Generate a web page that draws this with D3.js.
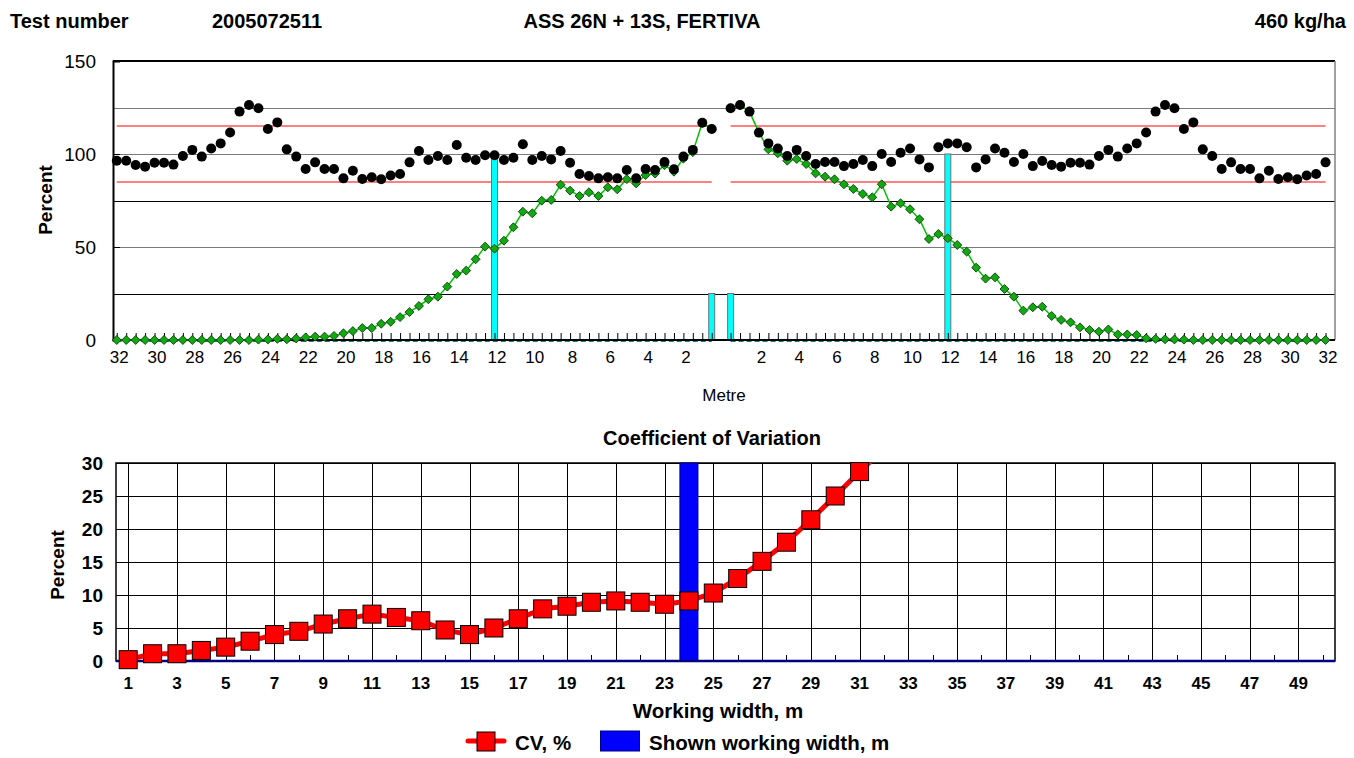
<!DOCTYPE html>
<html><head><meta charset="utf-8">
<script src="https://cdn.jsdelivr.net/npm/d3@7"></script>
<style>
body{margin:0;background:#fff}
svg{display:block}
text{font-family:"Liberation Sans",Arial,sans-serif;fill:#000}
</style>
</head><body>
<svg id="chart" width="1354" height="758"></svg>
<script>
// ---------------- DATA ----------------
const headerTexts = ["Test number", "2005072511", "ASS 26N + 13S, FERTIVA", "460 kg/ha"];

// distance from centre (m), left half and right half, every 0.5 m
const leftMetres  = d3.range(32, 0, -0.5);   // 32 ... 0.5
const rightMetres = d3.range(0.5, 32.5, 0.5); // 0.5 ... 32

// overlapped distribution (black dots), percent
const leftOverlap = [96.4, 96.4, 94.1, 93.2, 95.3, 95.3, 94.3, 98.9, 102.2, 98.6,
  103, 105.7, 111.6, 122.8, 126.3, 124.6, 113.4, 117, 102.5, 98.6,
  91.9, 95.5, 91.9, 91.9, 86.9, 91, 86.6, 87.5, 86.4, 88.4,
  89.2, 95.5, 101.6, 96.8, 98.9, 96.8, 104.8, 98, 96.8, 99.3,
  99.3, 96.8, 98, 105.2, 96.8, 98.9, 97.1, 101.6, 95.3, 89.2,
  88.2, 86.9, 87.5, 86.9, 91.4, 86.9, 91.9, 91.4, 95.7, 91.8,
  98.6, 102.2, 116.8, 113.4];
const rightOverlap = [124.6, 126.3, 122.8, 111.5, 105.7, 103, 98.9, 102.2, 98.9, 94.6,
  95.7, 95.7, 93.5, 94.6, 96.8, 93.5, 100, 95.7, 100.7, 103,
  97.1, 92.8, 103.6, 105.7, 105.7, 103.6, 92.8, 97.1, 103, 100.7,
  95.7, 100, 93.5, 96.2, 94.1, 93.2, 95.3, 95.3, 94.3, 98.9,
  102.2, 98.6, 103, 105.7, 111.6, 122.8, 126.3, 124.6, 113.4, 117,
  102.5, 98.9, 91.9, 95.5, 91.9, 91.9, 86.9, 91, 86.6, 87.5,
  86.4, 88.4, 89.2, 95.5];

// single pass distribution (green diamonds), percent
const leftSingle = [0, 0, 0, 0, 0, 0, 0, 0, 0, 0,
  0, 0, 0, 0, 0, 0.2, 0.3, 0.6, 0.4, 0.8,
  1.4, 1.8, 1.8, 2.2, 3.6, 4.8, 6.4, 6.4, 8.7, 9.8,
  12.3, 15, 18.3, 21.9, 23.3, 28.7, 35.5, 37.3, 43.4, 50.2,
  49.1, 53.4, 60.6, 69, 68.1, 74.9, 75.3, 83.5, 80.3, 77.4,
  79.4, 77.4, 82.1, 81, 86.5, 84.2, 88.7, 89.5, 94, 90.5,
  97.5, 101, 116.8, 113.4];
const rightSingle = [124.6, 126.3, 122.8, 111.5, 102.5, 100.4, 96.4, 97.3, 94.6, 89.6,
  87.8, 86.4, 83.7, 81.2, 78.5, 76.7, 83.7, 71.7, 73.5, 70.3,
  64.9, 54.3, 57, 54.7, 51.1, 47.5, 38.9, 33, 33.7, 27.4,
  23.3, 15.8, 17.6, 17.9, 12.9, 10.8, 9.5, 6.8, 5.4, 4.5,
  5.7, 3.0, 3.0, 2.7, 0.9, 0.6, 0.4, 0.3, 0.2, 0,
  0, 0, 0, 0, 0, 0, 0, 0, 0, 0,
  0, 0, 0, 0];

// tolerance lines (percent) and working-width markers
const limitValues = [85, 115];
const markerPositions = [-12, -0.5, 0.5, 12];  // signed metres (left negative)
const markerValues = [100, 25, 25, 100];

const topYTicks = [0, 50, 100, 150];
const topGridValues = [25, 50, 75, 100, 125];
const topXLabels = [32, 30, 28, 26, 24, 22, 20, 18, 16, 14, 12, 10, 8, 6, 4, 2];

// coefficient of variation
const workingWidths = d3.range(1, 51);          // 1 ... 50 (categories)
const cvWidths = d3.range(1, 33);               // 1 ... 32
const cvValues = [0.2, 1.1, 1.1, 1.6, 2.1, 3.0, 4.0, 4.5, 5.6, 6.4,
  7.1, 6.6, 6.1, 4.7, 4.0, 5.0, 6.4, 7.9, 8.3, 8.9,
  9.1, 8.9, 8.6, 9.1, 10.3, 12.5, 15.1, 18.0, 21.4, 25.0,
  28.7, 32.2];
const shownWidth = 24;
const shownWidthValue = 30;
const cvYTicks = [0, 5, 10, 15, 20, 25, 30];
const cvXLabels = [1, 3, 5, 7, 9, 11, 13, 15, 17, 19, 21, 23, 25, 27, 29, 31, 33, 35, 37, 39, 41, 43, 45, 47, 49];
const cvXMinor = [2, 4, 6, 8, 10, 12, 14, 16, 18, 20, 22, 24, 26, 28, 30, 32, 34, 36, 38, 40, 42, 44, 46, 48, 50];
const legendLabels = ["CV, %", "Shown working width, m"];

// ---------------- DRAW ----------------
const svg = d3.select("#chart");
const crisp = v => Math.round(v) + 0.5;

// header
const headerPos = [{x: 10, a: "start"}, {x: 212, a: "start"}, {x: 642, a: "middle"}, {x: 1346, a: "end"}];
svg.append("g").selectAll("text").data(headerTexts).join("text")
  .attr("x", (d, i) => headerPos[i].x).attr("y", 28)
  .attr("text-anchor", (d, i) => headerPos[i].a)
  .attr("font-size", 20).attr("font-weight", "bold").text(d => d);

// ===== TOP CHART =====
const T = {l: 113, r: 1335, t: 61, b: 340};
const xTop = d3.scaleLinear().domain([-32.2, 32.5]).range([T.l, T.r]);
const yTop = d3.scaleLinear().domain([0, 150]).range([T.b, T.t]);
const gTop = svg.append("g");

gTop.selectAll("line.grid").data(topGridValues).join("line")
  .attr("x1", T.l).attr("x2", T.r)
  .attr("y1", d => crisp(yTop(d))).attr("y2", d => crisp(yTop(d)))
  .attr("stroke", d => (d % 50 === 0 || d === 125) ? "#7a7a7a" : "#000").attr("stroke-width", 1);

// tolerance lines, both halves
const halves = [[-32, -0.5], [0.5, 32]];
limitValues.forEach(v => {
  gTop.selectAll(null).data(halves).join("line")
    .attr("x1", d => xTop(d[0])).attr("x2", d => xTop(d[1]))
    .attr("y1", yTop(v)).attr("y2", yTop(v))
    .attr("stroke", "#ff8080").attr("stroke-width", 2);
});

// plot border
gTop.append("line").attr("x1", T.l).attr("x2", T.r).attr("y1", T.t).attr("y2", T.t).attr("stroke", "#000").attr("stroke-width", 2);
gTop.append("line").attr("x1", T.r).attr("x2", T.r).attr("y1", T.t).attr("y2", T.b).attr("stroke", "#808080").attr("stroke-width", 1.5);

// marker bars (cyan)
const barW = 6;
gTop.selectAll("rect.mark").data(markerPositions).join("rect")
  .attr("x", d => xTop(d) - barW / 2).attr("width", barW)
  .attr("y", (d, i) => yTop(markerValues[i])).attr("height", (d, i) => yTop(0) - yTop(markerValues[i]))
  .attr("fill", "#00ffff").attr("stroke", "#707070").attr("stroke-width", 1);

// minor ticks every 0.5 m
const allPos = leftMetres.map(m => -m).concat(rightMetres);
gTop.append("g").attr("transform", `translate(0,${T.b})`)
  .call(d3.axisBottom(xTop).tickValues(allPos).tickSize(-7).tickFormat(""))
  .call(g => g.select(".domain").remove())
  .call(g => g.selectAll(".tick line").attr("stroke", "#000").attr("stroke-width", 1));

// dashed baseline series
gTop.selectAll(null).data(halves).join("line")
  .attr("x1", d => xTop(d[0])).attr("x2", d => xTop(d[1]))
  .attr("y1", yTop(0) + 1.5).attr("y2", yTop(0) + 1.5)
  .attr("stroke", "#008080").attr("stroke-width", 1).attr("stroke-dasharray", "5,3");

// x axis line and labels
gTop.append("line").attr("x1", T.l).attr("x2", T.r).attr("y1", T.b).attr("y2", T.b).attr("stroke", "#000").attr("stroke-width", 2);
const xLabVals = topXLabels.map(m => -m).concat(topXLabels.slice().reverse());
gTop.append("g").attr("transform", `translate(0,${T.b})`)
  .call(d3.axisBottom(xTop).tickValues(xLabVals).tickSize(0).tickPadding(11).tickFormat(d => Math.abs(d)))
  .call(g => g.select(".domain").remove())
  .call(g => g.selectAll("text").attr("font-size", 17).attr("font-family", "Liberation Sans, Arial, sans-serif").attr("fill", "#000").attr("dx", 2));

// y axis
gTop.append("g").attr("transform", `translate(${T.l},0)`)
  .call(d3.axisLeft(yTop).tickValues(topYTicks).tickSize(-7).tickPadding(17))
  .call(g => g.select(".domain").attr("stroke", "#000").attr("stroke-width", 2))
  .call(g => g.selectAll(".tick line").attr("stroke", "#000"))
  .call(g => g.selectAll("text").attr("font-size", 19).attr("font-family", "Liberation Sans, Arial, sans-serif").attr("fill", "#000"));

gTop.append("text").attr("transform", `translate(52,200) rotate(-90)`).attr("text-anchor", "middle")
  .attr("font-size", 19).attr("font-weight", "bold").text("Percent");
gTop.append("text").attr("x", 724).attr("y", 401).attr("text-anchor", "middle")
  .attr("font-size", 17).text("Metre");

// single-pass distribution lines + diamonds
const lineTop = d3.line().x(d => xTop(d[0])).y(d => yTop(d[1]));
const leftG = leftMetres.map((m, i) => [-m, leftSingle[i]]);
const rightG = rightMetres.map((m, i) => [m, rightSingle[i]]);
[leftG, rightG].forEach(pts => {
  gTop.append("path").attr("d", lineTop(pts)).attr("fill", "none").attr("stroke", "#00c000").attr("stroke-width", 1.5);
});
const diamond = d3.symbol(d3.symbolSquare, 40)();
gTop.selectAll("path.dia").data(leftG.concat(rightG)).join("path")
  .attr("d", diamond)
  .attr("transform", d => `translate(${xTop(d[0])},${yTop(d[1])}) rotate(45)`)
  .attr("fill", "#12a812").attr("stroke", "#063306").attr("stroke-width", 0.8);

// overlapped distribution dots
const leftB = leftMetres.map((m, i) => [-m, leftOverlap[i]]);
const rightB = rightMetres.map((m, i) => [m, rightOverlap[i]]);
gTop.selectAll("circle.dot").data(leftB.concat(rightB)).join("circle")
  .attr("cx", d => xTop(d[0])).attr("cy", d => yTop(d[1])).attr("r", 5).attr("fill", "#000");

// ===== BOTTOM CHART =====
const B = {l: 116, r: 1335, t: 463, b: 661};
const xBot = d3.scaleBand().domain(workingWidths).range([B.l, B.r]);
const bw = xBot.bandwidth();
const xc = d => xBot(d) + bw / 2;
const yBot = d3.scaleLinear().domain([0, 30]).range([B.b, B.t]);
const gBot = svg.append("g");

gBot.append("text").attr("x", 712).attr("y", 445).attr("text-anchor", "middle")
  .attr("font-size", 20).attr("font-weight", "bold").text("Coefficient of Variation");

// horizontal grid
gBot.selectAll("line.hg").data(cvYTicks).join("line")
  .attr("x1", B.l).attr("x2", B.r).attr("y1", d => crisp(yBot(d))).attr("y2", d => crisp(yBot(d)))
  .attr("stroke", "#000").attr("stroke-width", 1);
// vertical grid at labelled widths
gBot.selectAll("line.vg").data(cvXLabels).join("line")
  .attr("x1", d => crisp(xc(d))).attr("x2", d => crisp(xc(d))).attr("y1", B.t).attr("y2", B.b)
  .attr("stroke", "#000").attr("stroke-width", 1);
// minor ticks
gBot.selectAll("line.mt").data(cvXMinor).join("line")
  .attr("x1", d => crisp(xc(d))).attr("x2", d => crisp(xc(d))).attr("y1", B.b).attr("y2", B.b - 6)
  .attr("stroke", "#000").attr("stroke-width", 1);

// border
gBot.append("rect").attr("x", B.l).attr("y", B.t).attr("width", B.r - B.l).attr("height", B.b - B.t)
  .attr("fill", "none").attr("stroke", "#000").attr("stroke-width", 1.5);

// shown working width bar
const bBarW = bw * 0.74;
gBot.append("rect").attr("x", xc(shownWidth) - bBarW / 2).attr("width", bBarW)
  .attr("y", yBot(shownWidthValue)).attr("height", yBot(0) - yBot(shownWidthValue))
  .attr("fill", "#0000ff").attr("stroke", "#000080").attr("stroke-width", 1);
gBot.append("line").attr("x1", B.l).attr("x2", B.r).attr("y1", B.b).attr("y2", B.b)
  .attr("stroke", "#000080").attr("stroke-width", 2.5);

// axes labels
gBot.append("g").attr("transform", `translate(${B.l},0)`)
  .call(d3.axisLeft(yBot).tickValues(cvYTicks).tickSize(0).tickPadding(13))
  .call(g => g.select(".domain").remove())
  .call(g => g.selectAll("text").attr("font-size", 19).attr("font-weight", "bold").attr("font-family", "Liberation Sans, Arial, sans-serif").attr("fill", "#000"));
gBot.append("g").attr("transform", `translate(0,${B.b})`)
  .call(d3.axisBottom(xBot).tickValues(cvXLabels).tickSize(0).tickPadding(16))
  .call(g => g.select(".domain").remove())
  .call(g => g.selectAll("text").attr("font-size", 17).attr("font-weight", "bold").attr("font-family", "Liberation Sans, Arial, sans-serif").attr("fill", "#000"));

gBot.append("text").attr("transform", `translate(64,565) rotate(-90)`).attr("text-anchor", "middle")
  .attr("font-size", 19).attr("font-weight", "bold").text("Percent");
gBot.append("text").attr("x", 718).attr("y", 718).attr("text-anchor", "middle")
  .attr("font-size", 20.5).attr("font-weight", "bold").text("Working width, m");

// CV line
svg.append("defs").append("clipPath").attr("id", "cvclip")
  .append("rect").attr("x", B.l).attr("y", B.t).attr("width", B.r - B.l).attr("height", B.b - B.t + 10);
const cvPts = cvWidths.map((w, i) => [w, cvValues[i]]);
gBot.append("path").attr("clip-path", "url(#cvclip)")
  .attr("d", d3.line().x(d => xc(d[0])).y(d => yBot(d[1]))(cvPts))
  .attr("fill", "none").attr("stroke", "#ff0000").attr("stroke-width", 5).attr("stroke-linejoin", "round");
const sq = 18;
gBot.selectAll("rect.cv").data(cvPts.filter(d => d[1] <= 30)).join("rect")
  .attr("x", d => xc(d[0]) - sq / 2).attr("y", d => yBot(d[1]) - sq / 2)
  .attr("width", sq).attr("height", sq)
  .attr("fill", "#ff0000").attr("stroke", "#000").attr("stroke-width", 1);

// legend
const lg = svg.append("g");
lg.append("line").attr("x1", 468).attr("x2", 504).attr("y1", 741).attr("y2", 741)
  .attr("stroke", "#ff0000").attr("stroke-width", 5).attr("stroke-linecap", "round");
lg.append("rect").attr("x", 477).attr("y", 732).attr("width", 18).attr("height", 19)
  .attr("fill", "#ff0000").attr("stroke", "#000").attr("stroke-width", 1);
lg.append("rect").attr("x", 600.5).attr("y", 731).attr("width", 39).attr("height", 20)
  .attr("fill", "#0000ff").attr("stroke", "#000080").attr("stroke-width", 1);
lg.selectAll("text").data(legendLabels).join("text")
  .attr("x", (d, i) => i === 0 ? 515 : 649).attr("y", 750)
  .attr("font-size", 20.5).attr("font-weight", "bold").text(d => d);
</script>
</body></html>
